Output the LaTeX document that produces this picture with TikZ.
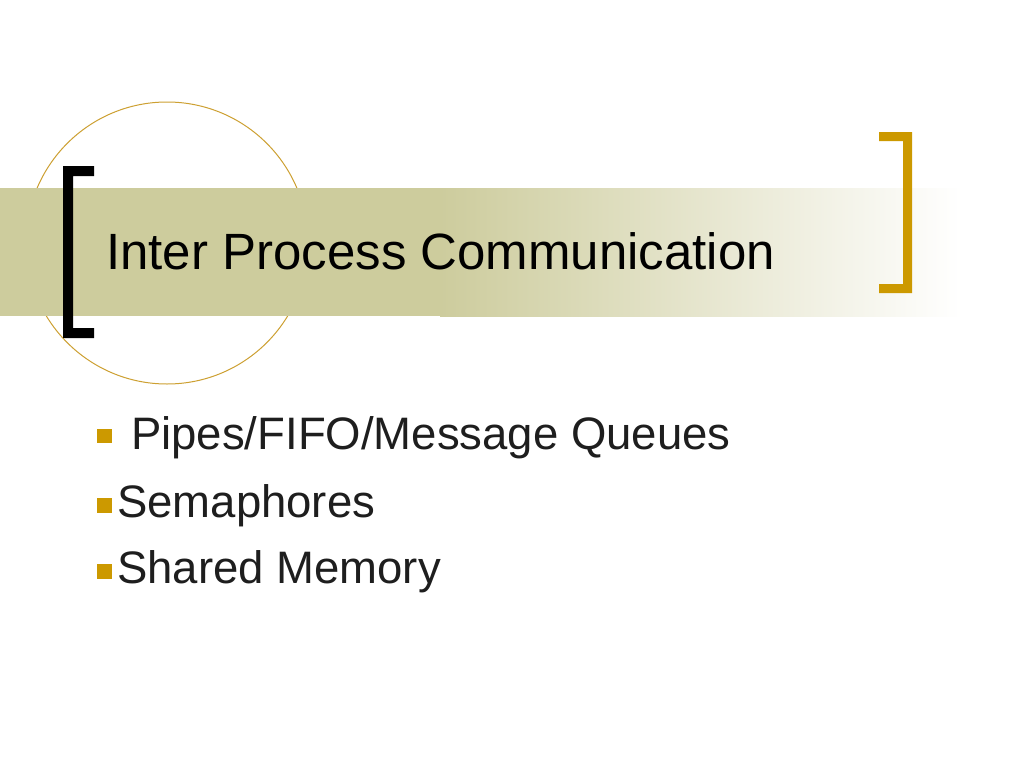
\documentclass[tikz,border=0pt]{standalone}
\usepackage{fontspec}
\setmainfont{Liberation Sans}
\definecolor{band}{RGB}{205,204,157}
\definecolor{ringgold}{RGB}{205,160,50}
\definecolor{brgold}{RGB}{204,153,0}
\definecolor{bodytext}{RGB}{30,30,30}
\tikzset{
  titletext/.style={inner sep=0pt, anchor=base west, font=\fontsize{51}{60}\selectfont, text=black},
  itemtext/.style={inner sep=0pt, anchor=base west, font=\fontsize{45.5}{54}\selectfont, text=bodytext},
  bulletsq/.style={fill=brgold, draw=none}
}
\begin{document}
\begin{tikzpicture}[x=1pt,y=-1pt]
\useasboundingbox (0,0) rectangle (1024,768);
\fill[white] (0,0) rectangle (1024,768);
% ring
\draw[ringgold, line width=1pt] (167,243) circle (141);
% band
\shade[left color=band, right color=white] (440,188) rectangle (962,316);
\fill[band] (0,188) rectangle (441,316);
% left bracket
\fill[black] (94,166) -- (63,166) -- (63,338) -- (94,338) -- (94,328) -- (73,328) -- (73,176) -- (94,176) -- cycle;
% right bracket
\fill[brgold] (879,132) -- (912,132) -- (912,293) -- (879,293) -- (879,284) -- (903,284) -- (903,141) -- (879,141) -- cycle;
% title
\node[titletext] (title) at (106,269) {Inter Process Communication};
% bullets
\fill[bulletsq] (97,429) rectangle (112,443);
\node[itemtext] (i1) at (131,449) {Pipes/FIFO/Message Queues};
\fill[bulletsq] (97,498) rectangle (112,513);
\node[itemtext] (i2) at (117,517) {Semaphores};
\fill[bulletsq] (97,564) rectangle (112,579);
\node[itemtext] (i3) at (117,583) {Shared Memory};
\end{tikzpicture}
\end{document}
